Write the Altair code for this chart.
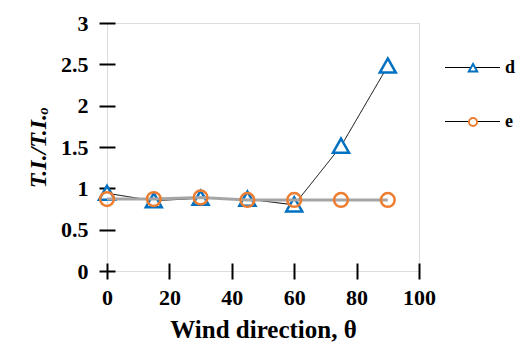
import altair as alt
import pandas as pd

# Wind direction (degrees) and normalised turbulence intensity for two cases
theta = [0, 15, 30, 45, 60, 75, 90]
ti_d = [0.94, 0.85, 0.88, 0.87, 0.80, 1.51, 2.48]
ti_e = [0.87, 0.87, 0.89, 0.86, 0.86, 0.86, 0.86]
series_names = ["d", "e"]
line_keys = ["d_line", "e_line"]
x_ticks = [0, 20, 40, 60, 80, 100]
y_ticks = [0, 0.5, 1, 1.5, 2, 2.5, 3]

rows = []
for name, key, vals in zip(series_names, line_keys, [ti_d, ti_e]):
    for t, v in zip(theta, vals):
        rows.append({"theta": t, "ti": v, "series": name, "case": key})
df = pd.DataFrame(rows)

FONT = "Liberation Serif"
TRI = "M0,-0.16L0.17,0.14L-0.17,0.14Z"
CIRC = "M-0.16,0A0.16,0.16 0 1,0 0.16,0A0.16,0.16 0 1,0 -0.16,0Z"
LINE = "M-1.1,0H1.1"

x_enc = alt.X(
    "theta:Q",
    scale=alt.Scale(domain=[0, 100], nice=False),
    axis=alt.Axis(
        values=x_ticks, title="Wind direction, θ", domain=False, grid=False,
        offset=-8, tickSize=16, tickWidth=2, tickColor="black",
        labelPadding=8, labelFont=FONT, labelFontSize=22, labelFontWeight="bold",
        labelColor="black", labelFlush=False, labelOverlap=False,
        titleFont=FONT, titleFontSize=25, titleFontWeight="bold",
        titleColor="black", titlePadding=9,
    ),
)
y_enc = alt.Y(
    "ti:Q",
    scale=alt.Scale(domain=[0, 3], nice=False),
    axis=alt.Axis(
        values=y_ticks, format="~g", title="T.I./T.I.ₒ", domain=False, grid=False,
        offset=-8, tickSize=16, tickWidth=2, tickColor="black",
        labelPadding=11, labelFont=FONT, labelFontSize=22, labelFontWeight="bold",
        labelColor="black", labelFlush=False, labelOverlap=False,
        titleFont=FONT, titleFontSize=24, titleFontWeight="bold",
        titleFontStyle="italic", titleColor="black", titlePadding=10,
    ),
)

legend_common = dict(
    orient="none", legendX=340, legendY=19, title=None, padding=0,
    symbolSize=2500, rowPadding=19, labelOffset=7,
    labelFont=FONT, labelFontSize=18, labelFontWeight="bold", labelColor="black",
)

base = alt.Chart(df).encode(x=x_enc, y=y_enc)

line_d = base.transform_filter(alt.datum.series == "d").mark_line(
    color="black", strokeWidth=1
).encode(
    strokeDash=alt.StrokeDash(
        "case:N",
        scale=alt.Scale(domain=line_keys, range=[[1, 0], [1, 0]]),
        legend=alt.Legend(symbolType=LINE, symbolStrokeWidth=1,
                          symbolStrokeColor="black",
                          labelExpr="split(datum.label, '_')[0]",
                          **legend_common),
    )
)

line_e = base.transform_filter(alt.datum.series == "e").mark_line(
    color="#A5A5A5", strokeWidth=3
)

marker_legend = alt.Legend(symbolStrokeWidth=2, symbolFillColor="white",
                           labelOpacity=0, **legend_common)
stroke_enc = alt.Stroke(
    "series:N",
    scale=alt.Scale(domain=series_names, range=["#0070C0", "#ED7D31"]),
    legend=marker_legend,
)
shape_enc = alt.Shape(
    "series:N",
    scale=alt.Scale(domain=series_names, range=[TRI, CIRC]),
    legend=marker_legend,
)

pts_d = base.transform_filter(alt.datum.series == "d").mark_point(
    size=8836, strokeWidth=2.5, fill="white", opacity=1
).encode(stroke=stroke_enc, shape=shape_enc)

pts_e = base.transform_filter(alt.datum.series == "e").mark_point(
    size=7400, strokeWidth=2.5, opacity=1
).encode(stroke=stroke_enc, shape=shape_enc)

chart = (
    alt.layer(line_d, pts_d, line_e, pts_e)
    .properties(
        width=312, height=248,
        autosize=alt.AutoSizeParams(type="none"),
        padding={"left": 107, "top": 23, "right": 110, "bottom": 81},
        background="white",
    )
    .configure_view(stroke="black", strokeWidth=2)
    .configure(font=FONT)
)

chart.save("out.html", embed_options={"renderer": "svg", "actions": False})
